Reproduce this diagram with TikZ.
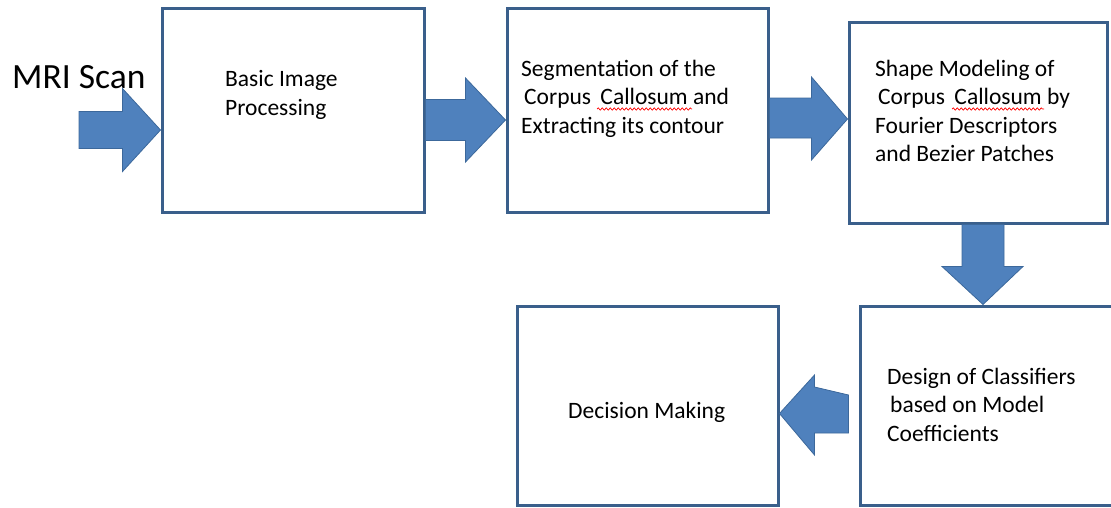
\documentclass[tikz,border=0pt]{standalone}
\usepackage{fontspec}
\setmainfont{Carlito}
\usetikzlibrary{calc,decorations.pathmorphing}
\definecolor{boxblue}{RGB}{58,95,139}
\definecolor{arrfill}{RGB}{79,129,189}
\definecolor{arrline}{RGB}{60,104,155}
\begin{document}
\begin{tikzpicture}[x=1pt,y=-1pt,
  stepbox/.style={draw=boxblue, line width=3pt, fill=white, rectangle, inner sep=0pt},
  blockarrow/.style={fill=arrfill, draw=arrline, line width=0.8pt, line join=miter},
  lbl/.style={font=\fontsize{23.5}{28.5}\selectfont, align=left, inner sep=0pt, anchor=base west},
  spell/.style={draw=red, line width=0.7pt, decorate, decoration={snake, amplitude=1.1pt, segment length=4pt}}]
\useasboundingbox (0,0) rectangle (1111,507);

% boxes
\node[stepbox, minimum width=262pt, minimum height=204pt] (b1) at (293,110) {};
\node[stepbox, minimum width=261pt, minimum height=204pt] (b2) at (637.5,110) {};
\node[stepbox, minimum width=258pt, minimum height=201pt] (b3) at (978,122.5) {};
\node[stepbox, minimum width=261pt, minimum height=199pt] (b4) at (647.5,405.5) {};
\node[stepbox, minimum width=290pt, minimum height=199pt] (b5) at (1005,405.5) {};

% texts (anchor = baseline of the last line)
\node[lbl, font=\fontsize{35.5}{40}\selectfont] (mri) at (12,88) {MRI Scan};
\node[lbl] (t1) at (225,115) {Basic Image\\Processing};
\node[lbl] (t2) at (521,133) {Segmentation of the\\\hspace{3pt}Corpus\hspace{4pt} Callosum and\\Extracting its contour};
\node[lbl] (t3) at (875,161.5) {Shape Modeling of\\\hspace{3pt}Corpus\hspace{4pt} Callosum by\\Fourier Descriptors\\and Bezier Patches};
\node[lbl] (t5) at (887,441) {Design of Classifiers\\\hspace{3pt}based on Model\\Coefficients};
\node[lbl] (t4) at (568,418) {Decision Making};

% spell-check underlines
\coordinate (s2a) at (597,109); \coordinate (s2b) at (692,109);
\coordinate (s3a) at (952,109); \coordinate (s3b) at (1044,109);
\draw[spell] (s2a) -- (s2b);
\draw[spell] (s3a) -- (s3b);

% block arrows
\coordinate (mriin) at (79,130);
\draw[blockarrow] ($(mriin)+(0,-18.5)$) -- ($(b1.west)+(-38,1.5)$) -- ($(b1.west)+(-38,-21.5)$)
  -- ($(b1.west)+(0,20)$) -- ($(b1.west)+(-38,61.5)$) -- ($(b1.west)+(-38,38.5)$)
  -- ($(mriin)+(0,18.5)$) -- cycle;

\draw[blockarrow] ($(b1.east)+(0,-10.5)$) -- ($(b2.west)+(-40,-10.5)$) -- ($(b2.west)+(-40,-32)$)
  -- ($(b2.west)+(0,10)$) -- ($(b2.west)+(-40,52)$) -- ($(b2.west)+(-40,30.5)$)
  -- ($(b1.east)+(0,30.5)$) -- cycle;

\draw[blockarrow] ($(b2.east)+(0,-12)$) -- ($(b3.west)+(-36,-24.5)$) -- ($(b3.west)+(-36,-45.5)$)
  -- ($(b3.west)+(0,-3.5)$) -- ($(b3.west)+(-36,37.5)$) -- ($(b3.west)+(-36,15.5)$)
  -- ($(b2.east)+(0,28)$) -- cycle;

\draw[blockarrow] ($(b3.south)+(-16,0)$) -- ($(b5.north)+(-43,-38)$) -- ($(b5.north)+(-63,-38)$)
  -- ($(b5.north)+(-22,0)$) -- ($(b5.north)+(18,-38)$) -- ($(b5.north)+(-1,-38)$)
  -- ($(b3.south)+(26,0)$) -- cycle;

\draw[blockarrow] ($(b5.west)+(-10,-10.5)$) -- ($(b4.east)+(35,-18.5)$) -- ($(b4.east)+(35,-30.5)$)
  -- ($(b4.east)+(0,8)$) -- ($(b4.east)+(35,49.5)$) -- ($(b4.east)+(35,27.5)$)
  -- ($(b5.west)+(-10,27.5)$) -- cycle;
\end{tikzpicture}
\end{document}
